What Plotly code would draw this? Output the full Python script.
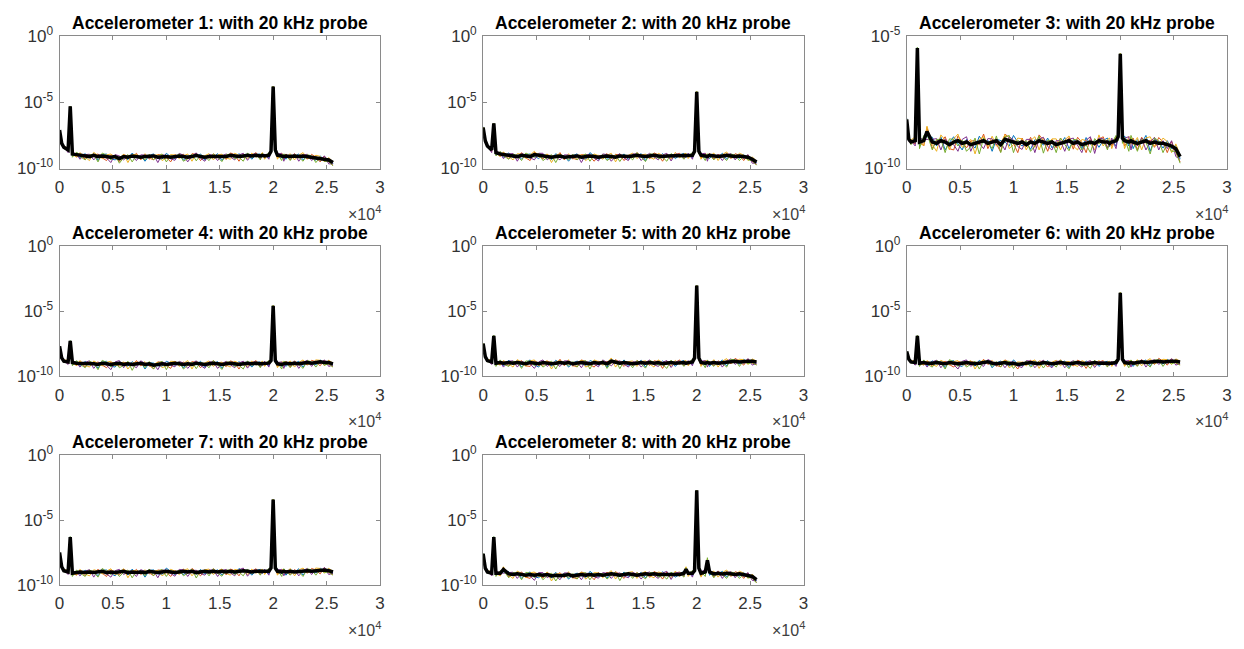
import math
import plotly.graph_objects as go

# Frequency grid (Hz)
F = [0, 200, 400, 800, 1000, 1200, 1600, 1900, 2400,
     2800, 3200, 3600, 4000, 4400, 4800, 5200, 5600, 6000, 6400,
     6800, 7200, 7600, 8000, 8400, 8800, 9200, 9600, 10000, 10400,
     10800, 11200, 11600, 12000, 12400, 12800, 13200, 13600, 14000, 14400,
     14800, 15200, 15600, 16000, 16400, 16800, 17200, 17600, 18000, 18400,
     18800,
     19000, 19200, 19600, 19800, 20000, 20200, 20400, 20800, 21000, 21200,
     21600, 22000, 22400, 22800, 23200, 23600, 24000, 24400, 24800, 25200, 25600]

TITLES = ["Accelerometer 1: with 20 kHz probe", "Accelerometer 2: with 20 kHz probe",
          "Accelerometer 3: with 20 kHz probe", "Accelerometer 4: with 20 kHz probe",
          "Accelerometer 5: with 20 kHz probe", "Accelerometer 6: with 20 kHz probe",
          "Accelerometer 7: with 20 kHz probe", "Accelerometer 8: with 20 kHz probe"]

# Mean spectra, log10 of PSD (black thick line)
B1 = [-7.1, -8.1, -8.4, -8.6, -5.3, -8.9, -8.95, -9.0, -9.05,
      -9.1, -9.0, -9.1, -9.05, -9.1, -9.15, -9.1, -9.25, -9.1, -9.15,
      -9.05, -9.1, -9.15, -9.1, -9.1, -9.05, -9.15, -9.1, -9.1, -9.15,
      -9.1, -9.05, -9.1, -9.15, -9.1, -9.0, -9.1, -9.15, -9.1, -9.1,
      -9.05, -9.1, -9.1, -9.0, -9.05, -9.1, -9.05, -9.0, -9.05, -9.0,
      -9.05,
      -9.0, -9.05, -9.0, -8.7, -3.8, -8.6, -9.0, -9.05, -9.1, -9.05,
      -9.1, -9.05, -9.1, -9.05, -9.1, -9.15, -9.2, -9.2, -9.25, -9.35, -9.55]
B2 = [-6.9, -7.9, -8.3, -8.6, -6.6, -8.8, -8.9, -8.95, -9.0,
      -9.05, -9.1, -9.0, -9.05, -9.1, -8.95, -9.0, -9.05, -9.1, -9.15,
      -9.1, -9.05, -9.15, -9.1, -9.1, -9.05, -9.15, -9.1, -9.05, -9.1,
      -9.15, -9.1, -9.05, -9.1, -9.15, -9.05, -9.1, -9.1, -9.05, -9.0,
      -9.05, -9.1, -9.05, -9.0, -9.05, -9.1, -9.05, -9.05, -9.0, -9.05,
      -9.0,
      -9.05, -9.0, -9.0, -8.7, -4.2, -8.7, -9.0, -9.05, -9.1, -9.0,
      -9.05, -9.1, -9.05, -9.0, -9.05, -9.1, -9.05, -9.1, -9.15, -9.3, -9.5]
B3 = [-8.15, -8.9, -9.0, -8.95, -5.45, -9.0, -8.95, -8.6, -9.0,
      -9.05, -8.95, -9.0, -9.1, -9.0, -8.95, -9.05, -9.0, -9.1, -9.05,
      -9.0, -8.95, -9.05, -9.0, -8.95, -9.1, -8.9, -8.95, -9.0, -9.05,
      -9.0, -9.1, -9.0, -9.05, -8.95, -9.0, -9.05, -9.0, -9.1, -9.05,
      -9.0, -8.95, -9.05, -9.0, -9.1, -9.05, -9.0, -9.05, -8.95, -9.0,
      -9.0,
      -9.05, -9.0, -8.95, -8.8, -5.67, -8.85, -8.95, -9.0, -8.95, -9.0,
      -9.05, -9.0, -8.95, -9.05, -9.0, -9.05, -9.05, -9.1, -9.15, -9.25, -9.55]
B4 = [-7.7, -8.6, -8.85, -8.9, -7.3, -8.95, -9.0, -9.0, -9.05,
      -9.0, -9.05, -9.1, -9.0, -9.05, -9.1, -9.05, -9.0, -9.1, -9.05,
      -9.1, -9.05, -9.0, -9.1, -9.05, -9.15, -9.1, -9.05, -9.1, -9.05,
      -9.0, -9.05, -9.1, -9.05, -9.1, -9.0, -9.05, -9.1, -9.05, -9.0,
      -9.05, -9.1, -9.05, -9.0, -9.05, -9.1, -9.05, -9.0, -9.05, -9.0,
      -9.05,
      -9.05, -9.0, -9.0, -8.8, -4.6, -8.8, -9.05, -9.1, -9.05, -9.0,
      -9.05, -9.0, -9.05, -9.0, -8.95, -9.0, -8.95, -8.9, -8.95, -8.95, -9.05]
B5 = [-7.5, -8.5, -8.8, -8.9, -6.9, -9.0, -8.95, -9.0, -8.95,
      -9.0, -8.95, -9.0, -9.05, -8.95, -9.0, -9.05, -8.95, -9.0, -9.05,
      -9.0, -8.95, -9.0, -8.95, -9.05, -9.0, -8.95, -9.0, -9.05, -8.95,
      -9.0, -8.95, -9.05, -8.85, -8.95, -9.0, -8.95, -9.0, -9.05, -9.0,
      -8.95, -9.0, -8.95, -9.0, -8.95, -9.05, -9.0, -8.95, -9.0, -8.95,
      -8.95,
      -9.0, -8.95, -8.9, -8.6, -3.05, -8.6, -8.95, -9.0, -8.95, -9.0,
      -8.95, -9.0, -8.95, -8.9, -8.85, -8.85, -8.9, -8.85, -8.85, -8.85, -8.9]
B6 = [-8.1, -8.7, -8.9, -8.95, -6.9, -9.0, -8.95, -9.0, -9.0,
      -8.95, -9.0, -9.05, -8.95, -9.0, -9.05, -9.0, -8.95, -9.0, -9.05,
      -9.0, -8.95, -8.9, -9.0, -9.05, -9.0, -8.95, -9.05, -9.0, -9.1,
      -9.05, -9.0, -8.95, -9.0, -9.05, -8.95, -9.0, -9.05, -9.0, -8.95,
      -9.0, -9.05, -9.0, -8.95, -9.0, -9.05, -9.0, -8.95, -9.0, -9.0,
      -9.0,
      -9.05, -9.0, -8.95, -8.7, -3.6, -8.7, -8.95, -9.0, -8.95, -9.0,
      -8.95, -8.9, -8.95, -8.9, -8.9, -8.85, -8.9, -8.85, -8.85, -8.85, -8.9]
B7 = [-7.5, -8.6, -8.9, -9.0, -6.3, -9.1, -9.05, -9.0, -9.05,
      -9.0, -9.05, -9.0, -8.95, -9.05, -9.0, -9.05, -9.0, -8.95, -9.05,
      -9.0, -9.05, -9.0, -9.05, -8.95, -9.0, -9.05, -9.0, -8.95, -9.0,
      -9.05, -9.0, -8.95, -9.0, -8.95, -9.05, -9.0, -8.95, -9.0, -8.95,
      -9.0, -8.95, -9.0, -8.95, -9.0, -8.95, -8.9, -8.95, -9.0, -8.95,
      -8.95,
      -9.0, -8.95, -8.95, -8.7, -3.4, -8.7, -8.95, -9.0, -8.95, -9.0,
      -8.95, -9.0, -8.95, -8.95, -8.9, -8.95, -8.9, -8.85, -8.85, -8.9, -9.0]
B8 = [-7.6, -8.7, -9.0, -9.1, -6.3, -9.1, -9.1, -8.8, -9.15,
      -9.2, -9.15, -9.2, -9.25, -9.2, -9.25, -9.2, -9.25, -9.2, -9.3,
      -9.25, -9.3, -9.25, -9.2, -9.3, -9.25, -9.2, -9.25, -9.2, -9.25,
      -9.2, -9.25, -9.2, -9.15, -9.2, -9.25, -9.2, -9.15, -9.2, -9.25,
      -9.2, -9.15, -9.2, -9.15, -9.2, -9.2, -9.15, -9.2, -9.15, -9.2,
      -9.1,
      -8.8, -9.1, -9.1, -8.9, -2.7, -8.7, -9.1, -9.0, -8.1, -9.0,
      -9.15, -9.1, -9.15, -9.1, -9.15, -9.2, -9.15, -9.2, -9.25, -9.35, -9.6]
BLACK = [B1, B2, B3, B4, B5, B6, B7, B8]

# Individual repetitions: deviation from the mean in decades
O1 = [0.05, 0.02, -0.05, 0.1, 0.02, -0.15, 0.12, -0.2, 0.18, -0.1,
      0.15, -0.3, 0.08, 0.2, -0.12, -0.25, 0.1, 0.05, -0.18, 0.22,
      -0.08, 0.12, -0.35, 0.06, 0.16, -0.1, -0.2, 0.25, 0.04, -0.15,
      0.1, -0.28, 0.14, 0.02, -0.12, 0.2, -0.22, 0.08, -0.05, 0.17,
      -0.3, 0.1, 0.05, -0.15, 0.22, -0.1, 0.12, -0.25, 0.06, 0.15,
      -0.12, 0.08, -0.2, 0.1, 0.02, -0.1, 0.18, -0.15, 0.05, -0.25,
      0.14, -0.05, 0.2, -0.3, 0.1, 0.06, -0.18, 0.15, -0.1, 0.12,
      -0.08]
O2 = [-0.02, 0.06, 0.03, -0.12, -0.02, 0.1, -0.2, 0.15, -0.25, 0.12,
      -0.05, 0.2, -0.15, -0.3, 0.18, 0.05, -0.22, 0.14, 0.1, -0.1,
      0.25, -0.2, 0.08, -0.12, -0.28, 0.2, 0.12, -0.05, -0.35, 0.15,
      -0.08, 0.18, -0.15, 0.22, 0.06, -0.3, 0.1, -0.12, 0.2, -0.05,
      0.12, -0.22, 0.18, 0.08, -0.35, 0.15, -0.1, 0.05, 0.2, -0.25,
      0.1, -0.15, 0.12, -0.08, -0.02, 0.12, -0.2, 0.1, -0.12, 0.15,
      -0.25, 0.18, -0.1, 0.12, -0.2, 0.22, 0.05, -0.3, 0.18, -0.15,
      -0.2]
O3 = [0.03, -0.04, 0.08, 0.14, 0.01, -0.05, -0.18, 0.2, -0.1, -0.3,
      0.22, 0.08, -0.2, 0.12, 0.25, -0.15, -0.05, 0.2, -0.4, 0.1,
      0.15, -0.12, 0.22, -0.2, 0.05, 0.18, -0.3, -0.1, 0.2, 0.12,
      -0.2, 0.05, 0.25, -0.35, 0.15, -0.08, 0.12, 0.22, -0.25, 0.08,
      0.18, -0.1, -0.3, 0.2, 0.1, -0.05, -0.25, 0.22, -0.15, 0.1,
      0.2, -0.25, 0.15, -0.05, 0.03, 0.08, -0.3, 0.2, 0.12, -0.1,
      0.22, -0.3, 0.1, 0.25, -0.15, -0.05, 0.2, 0.12, -0.25, 0.18,
      0.05]
O4 = [-0.03, -0.08, 0.05, -0.2, -0.01, 0.15, 0.05, -0.3, 0.1, 0.18,
      -0.35, 0.12, 0.05, -0.1, -0.4, 0.15, 0.2, -0.25, 0.08, -0.05,
      -0.3, 0.18, 0.12, -0.15, 0.1, -0.4, 0.15, 0.08, -0.12, -0.28,
      0.2, 0.1, -0.35, 0.06, 0.18, -0.12, -0.3, 0.15, 0.1, -0.35,
      0.05, 0.2, -0.12, -0.3, 0.12, 0.2, -0.38, 0.1, 0.12, -0.2,
      -0.1, 0.15, -0.3, 0.05, -0.02, -0.15, 0.1, 0.2, -0.35, 0.08,
      -0.1, 0.15, -0.35, 0.05, 0.18, -0.25, 0.1, -0.15, 0.2, -0.3,
      -0.1]
O5 = [0.0, 0.05, -0.1, 0.06, 0.02, -0.25, 0.2, -0.08, -0.3, 0.15,
      0.05, -0.4, 0.22, 0.1, -0.2, 0.12, -0.35, -0.08, 0.2, -0.45,
      0.1, 0.05, -0.25, 0.18, -0.3, 0.08, 0.2, -0.4, 0.12, -0.05,
      0.15, -0.35, -0.1, 0.18, -0.42, 0.12, 0.05, -0.3, 0.2, -0.1,
      -0.38, 0.15, 0.08, -0.2, -0.05, -0.4, 0.18, -0.12, 0.1, -0.3,
      0.12, -0.05, 0.2, -0.15, 0.01, -0.2, 0.12, -0.35, 0.2, 0.05,
      -0.3, 0.1, -0.05, -0.4, 0.15, 0.1, -0.35, 0.05, -0.2, -0.1,
      -0.25]
OFFS = [O1, O2, O3, O4, O5]
COLORS = ["#0072BD", "#D95319", "#EDB120", "#7E2F8E", "#77AC30"]

XTICKVALS = [0, 5000, 10000, 15000, 20000, 25000, 30000]
XTICKTEXT = ["0", "0.5", "1", "1.5", "2", "2.5", "3"]
YRANGES = [[-10, 0], [-10, 0], [-10, -5], [-10, 0], [-10, 0], [-10, 0], [-10, 0], [-10, 0]]
YTICKVALS = [1e-10, 1e-5, 1]
YTICKTEXT = ["10<sup>-10</sup>", "10<sup>-5</sup>", "10<sup>0</sup>"]

W, H = 1244, 649
COLS_PX = [(55, 378), (482, 805), (909, 1232)]
ROWS_PX = [(25, 162), (242, 377), (459, 593)]

for b in BLACK:
    assert len(b) == len(F)
for o in OFFS:
    assert len(o) == len(F)

fig = go.Figure()
layout = dict(width=W, height=H, autosize=False, margin=dict(l=0, r=0, t=0, b=0),
              paper_bgcolor="white", plot_bgcolor="white", showlegend=False,
              font=dict(family="Liberation Sans, Arial, sans-serif", color="#262626"))
annotations = []
AX = "#8a8a8a"
for i in range(8):
    r, c = divmod(i, 3)
    x0, x1 = COLS_PX[c]
    yt, yb = ROWS_PX[r]
    xd = [x0 / W, x1 / W]
    yd = [1 - yb / H, 1 - yt / H]
    n = "" if i == 0 else str(i + 1)
    for off, col in zip(OFFS, COLORS):
        fig.add_trace(go.Scatter(x=F, y=[10 ** (b + o) for b, o in zip(BLACK[i], off)],
                                 mode="lines", line=dict(color=col, width=1),
                                 xaxis="x" + n, yaxis="y" + n, hoverinfo="skip"))
    fig.add_trace(go.Scatter(x=F, y=[10 ** b for b in BLACK[i]], mode="lines",
                             line=dict(color="black", width=3.5),
                             xaxis="x" + n, yaxis="y" + n))
    common = dict(showline=True, linecolor=AX, linewidth=1, mirror="allticks",
                  ticks="inside", ticklen=4, tickcolor=AX, showgrid=False, zeroline=False,
                  tickfont=dict(size=17, color="#333333"))
    layout["xaxis" + n] = dict(domain=xd, anchor="y" + n, range=[0, 30000],
                               tickvals=XTICKVALS, ticktext=XTICKTEXT,
                               ticklabelstandoff=3, **common)
    yv = [v for v in YTICKVALS if YRANGES[i][0] <= math.log10(v) <= YRANGES[i][1]]
    yt_txt = [t for v, t in zip(YTICKVALS, YTICKTEXT) if v in yv]
    layout["yaxis" + n] = dict(domain=yd, anchor="x" + n, type="log", range=YRANGES[i],
                               tickvals=yv, ticktext=yt_txt, ticklabelstandoff=2, **common)
    annotations.append(dict(text="<b>" + TITLES[i] + "</b>", x=(xd[0] + xd[1]) / 2, y=yd[1],
                            xref="paper", yref="paper", xanchor="center", yanchor="bottom",
                            yshift=1, showarrow=False, font=dict(size=17.5, color="black")))
    annotations.append(dict(text="\u00d710<sup>4</sup>", x=xd[1], y=yd[0], xref="paper",
                            yref="paper", xanchor="right", yanchor="top", xshift=3, yshift=-32,
                            showarrow=False, font=dict(size=16, color="#404040")))

layout["annotations"] = annotations
fig.update_layout(**layout)
fig.write_html("out.html")
